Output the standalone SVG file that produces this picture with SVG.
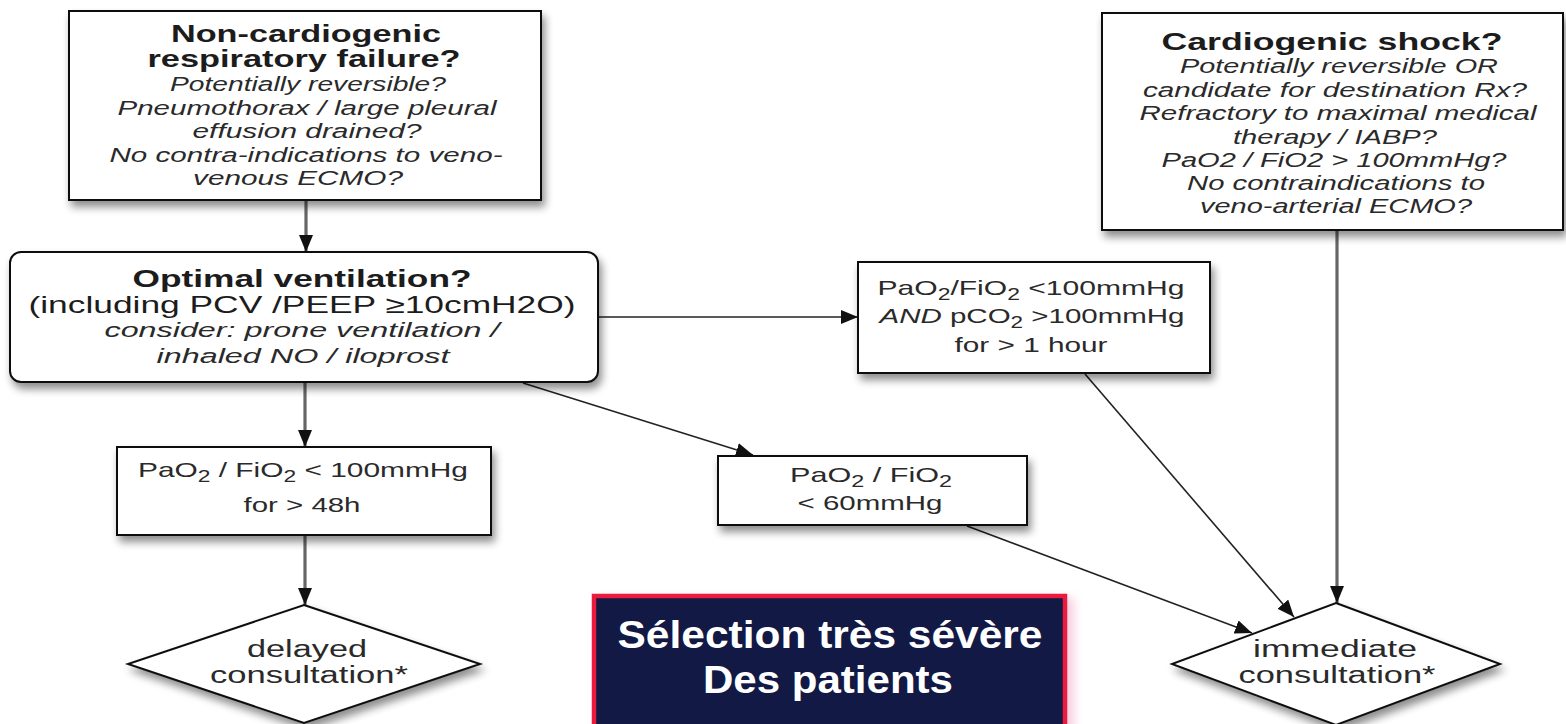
<svg xmlns="http://www.w3.org/2000/svg" width="1566" height="724" viewBox="0 0 1566 724">
  <defs>
    <style>
      text { font-family: "Liberation Sans", Arial, sans-serif; fill: #1c1c1c; text-anchor: middle; }
      .b { font-weight: bold; font-size: 24px; }
      .r { font-size: 24px; }
      .i { font-style: italic; font-size: 20px; fill: #2a2a2a; }
      .s { font-size: 21px; fill: #2a2a2a; }
      .d { font-size: 23px; fill: #2a2a2a; }
      .box { fill: #ffffff; stroke: #111; stroke-width: 2; filter: url(#sh); }
      .thin { stroke: #222; stroke-width: 1.6; fill: none; }
      .thick { stroke: #666; stroke-width: 3.2; fill: none; }
      .call { font-family: "Liberation Sans", Arial, sans-serif; font-weight: bold; font-size: 39px; fill: #ffffff; }
    </style>
    <filter id="sh" x="-10%" y="-15%" width="125%" height="140%">
      <feGaussianBlur in="SourceAlpha" stdDeviation="4"/>
      <feOffset dx="3" dy="6" result="o"/>
      <feComponentTransfer><feFuncA type="linear" slope="0.45"/></feComponentTransfer>
      <feMerge><feMergeNode/><feMergeNode in="SourceGraphic"/></feMerge>
    </filter>
    <filter id="glow" x="-10%" y="-20%" width="130%" height="150%">
      <feGaussianBlur stdDeviation="5"/>
    </filter>
    <marker id="ah" markerWidth="17" markerHeight="14" refX="17" refY="7" orient="auto" markerUnits="userSpaceOnUse">
      <path d="M0,0 L17,7 L0,14 z" fill="#111"/>
    </marker>
  </defs>

  <rect width="1566" height="724" fill="#ffffff"/>

  <g id="connectors">
    <line class="thick" x1="306" y1="200" x2="306" y2="252" marker-end="url(#ah)"/>
    <line class="thin" x1="598" y1="317" x2="858" y2="317" marker-end="url(#ah)"/>
    <line class="thick" x1="305" y1="382" x2="305" y2="447" marker-end="url(#ah)"/>
    <line class="thin" x1="523" y1="383" x2="753" y2="455" marker-end="url(#ah)"/>
    <line class="thick" x1="305" y1="535" x2="305" y2="605" marker-end="url(#ah)"/>
    <line class="thin" x1="1085" y1="374" x2="1294" y2="617" marker-end="url(#ah)"/>
    <line class="thin" x1="967" y1="526" x2="1252" y2="633" marker-end="url(#ah)"/>
    <line class="thick" x1="1337" y1="230" x2="1337" y2="603" marker-end="url(#ah)"/>
  </g>

  <g id="node-noncardiogenic">
    <rect class="box" x="69" y="11" width="472" height="189"/>
    <text class="b" x="306" y="42" textLength="270" lengthAdjust="spacingAndGlyphs">Non-cardiogenic</text>
    <text class="b" x="304" y="67" textLength="313" lengthAdjust="spacingAndGlyphs">respiratory failure?</text>
    <text class="i" x="308" y="91" textLength="276" lengthAdjust="spacingAndGlyphs">Potentially reversible?</text>
    <text class="i" x="307" y="115" textLength="379" lengthAdjust="spacingAndGlyphs">Pneumothorax / large pleural</text>
    <text class="i" x="307" y="138" textLength="229" lengthAdjust="spacingAndGlyphs">effusion drained?</text>
    <text class="i" x="306" y="162" textLength="393" lengthAdjust="spacingAndGlyphs">No contra-indications to veno-</text>
    <text class="i" x="298" y="185" textLength="210" lengthAdjust="spacingAndGlyphs">venous ECMO?</text>
  </g>

  <g id="node-cardiogenic">
    <rect class="box" x="1102" y="13" width="461" height="217"/>
    <text class="b" x="1332" y="50" textLength="341" lengthAdjust="spacingAndGlyphs">Cardiogenic  shock?</text>
    <text class="i" x="1339" y="73" textLength="318" lengthAdjust="spacingAndGlyphs">Potentially reversible OR</text>
    <text class="i" x="1335" y="97" textLength="384" lengthAdjust="spacingAndGlyphs">candidate for destination Rx?</text>
    <text class="i" x="1338" y="120" textLength="397" lengthAdjust="spacingAndGlyphs">Refractory to maximal medical</text>
    <text class="i" x="1335" y="144" textLength="204" lengthAdjust="spacingAndGlyphs">therapy / IABP?</text>
    <text class="i" x="1334" y="167" textLength="345" lengthAdjust="spacingAndGlyphs">PaO2 / FiO2 &gt; 100mmHg?</text>
    <text class="i" x="1336" y="190" textLength="298" lengthAdjust="spacingAndGlyphs">No contraindications to</text>
    <text class="i" x="1336" y="213" textLength="272" lengthAdjust="spacingAndGlyphs">veno-arterial ECMO?</text>
  </g>

  <g id="node-optimal-ventilation">
    <rect class="box" x="10" y="252" width="588" height="130" rx="11" ry="11"/>
    <text class="b" x="302" y="287" textLength="339" lengthAdjust="spacingAndGlyphs">Optimal ventilation?</text>
    <text class="r" x="302" y="313" textLength="547" lengthAdjust="spacingAndGlyphs">(including PCV /PEEP ≥10cmH2O)</text>
    <text class="i" x="302" y="337" textLength="395" lengthAdjust="spacingAndGlyphs">consider: prone ventilation /</text>
    <text class="i" x="303" y="363" textLength="293" lengthAdjust="spacingAndGlyphs">inhaled NO / iloprost</text>
  </g>

  <g id="node-pao2-100-1h">
    <rect class="box" x="858" y="262" width="352" height="111"/>
    <text class="s" x="1031" y="295" textLength="307" lengthAdjust="spacingAndGlyphs">PaO<tspan dy="5" font-size="16">2</tspan><tspan dy="-5">/FiO</tspan><tspan dy="5" font-size="16">2</tspan><tspan dy="-5"> &lt;100mmHg</tspan></text>
    <text class="s" x="1032" y="323" textLength="305" lengthAdjust="spacingAndGlyphs"><tspan font-style="italic">AND</tspan> pCO<tspan dy="5" font-size="16">2</tspan><tspan dy="-5"> &gt;100mmHg</tspan></text>
    <text class="s" x="1031" y="352" textLength="153" lengthAdjust="spacingAndGlyphs">for &gt; 1 hour</text>
  </g>

  <g id="node-pao2-100-48h">
    <rect class="box" x="117" y="447" width="374" height="88"/>
    <text class="s" x="303" y="477" textLength="330" lengthAdjust="spacingAndGlyphs">PaO<tspan dy="5" font-size="16">2</tspan><tspan dy="-5"> / FiO</tspan><tspan dy="5" font-size="16">2</tspan><tspan dy="-5"> &lt; 100mmHg</tspan></text>
    <text class="s" x="302" y="512" textLength="117" lengthAdjust="spacingAndGlyphs">for &gt; 48h</text>
  </g>

  <g id="node-pao2-60">
    <rect class="box" x="718" y="456" width="309" height="69"/>
    <text class="s" x="871" y="482" textLength="162" lengthAdjust="spacingAndGlyphs">PaO<tspan dy="5" font-size="16">2</tspan><tspan dy="-5"> / FiO</tspan><tspan dy="5" font-size="16">2</tspan></text>
    <text class="s" x="870" y="510" textLength="145" lengthAdjust="spacingAndGlyphs">&lt; 60mmHg</text>
  </g>

  <g id="node-delayed">
    <polygon class="box" points="304,605 480,664 304,723 128,664"/>
    <text class="d" x="307" y="657" textLength="120" lengthAdjust="spacingAndGlyphs">delayed</text>
    <text class="d" x="309" y="683" textLength="198" lengthAdjust="spacingAndGlyphs">consultation*</text>
  </g>

  <g id="node-immediate">
    <polygon class="box" points="1336,603 1500,664 1336,725 1172,664"/>
    <text class="d" x="1335" y="657" textLength="164" lengthAdjust="spacingAndGlyphs">immediate</text>
    <text class="d" x="1337" y="683" textLength="197" lengthAdjust="spacingAndGlyphs">consultation*</text>
  </g>

  <g id="callout">
    <rect x="600" y="598" width="474" height="140" fill="#f4a6c6" opacity="0.55" filter="url(#glow)"/>
    <rect x="594" y="596" width="471" height="135" fill="#111944" stroke="#ec1a3d" stroke-width="4.5"/>
    <text class="call" x="830" y="648" textLength="425" lengthAdjust="spacingAndGlyphs">Sélection très sévère</text>
    <text class="call" x="828" y="693" textLength="250" lengthAdjust="spacingAndGlyphs">Des patients</text>
  </g>
</svg>
